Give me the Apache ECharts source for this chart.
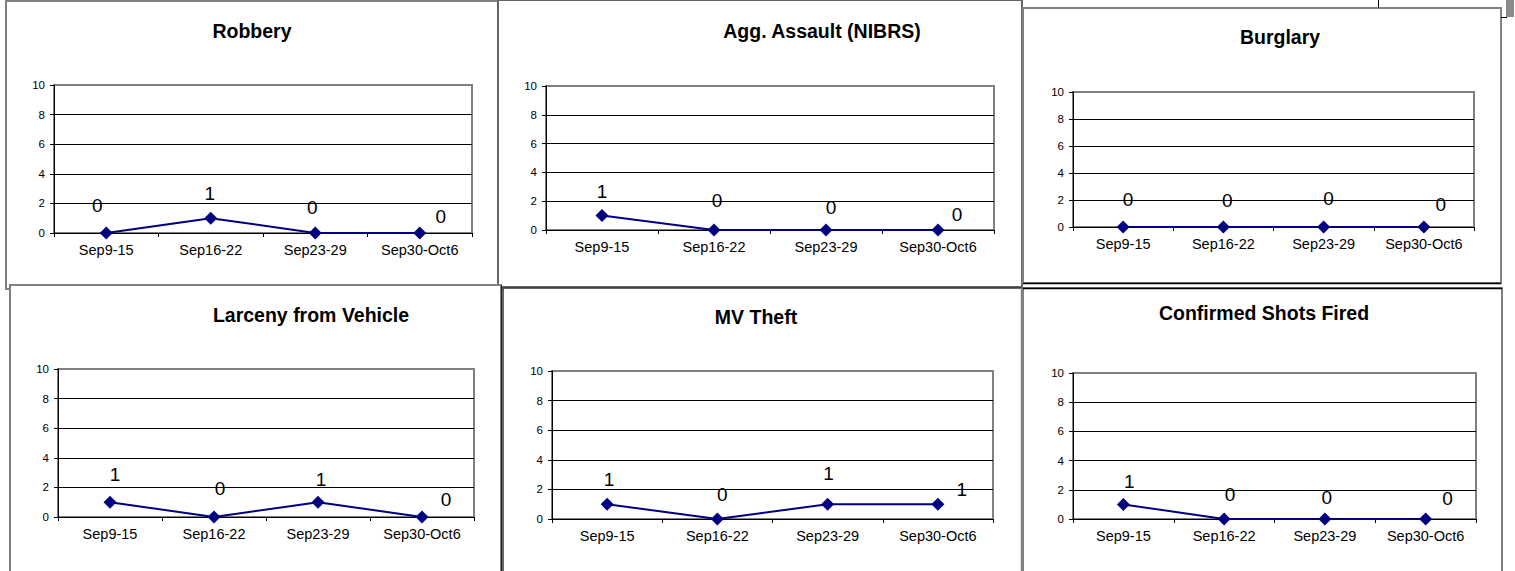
<!DOCTYPE html>
<html><head><meta charset="utf-8">
<script src="https://cdn.jsdelivr.net/npm/echarts@6/dist/echarts.min.js"></script>
<style>html,body{margin:0;padding:0;background:#fff;}#c{width:1515px;height:571px;}</style>
</head><body><div id="c"></div>
<script>
// ---- data ----
const CATEGORIES = ['Sep9-15', 'Sep16-22', 'Sep23-29', 'Sep30-Oct6'];
const Y_MIN = 0, Y_MAX = 10, Y_STEP = 2;
const ROBBERY = [0, 1, 0, 0];
const AGG_ASSAULT = [1, 0, 0, 0];
const BURGLARY = [0, 0, 0, 0];
const LARCENY_FROM_VEHICLE = [1, 0, 1, 0];
const MV_THEFT = [1, 0, 1, 1];
const SHOTS_FIRED = [1, 0, 0, 0];
const TITLES = ['Robbery', 'Agg. Assault (NIBRS)', 'Burglary', 'Larceny from Vehicle', 'MV Theft', 'Confirmed Shots Fired'];
const VALUES = [ROBBERY, AGG_ASSAULT, BURGLARY, LARCENY_FROM_VEHICLE, MV_THEFT, SHOTS_FIRED];

// ---- layout (positions / styles) ----
const GRIDS = [
  {left: 54, top: 85, width: 418, height: 148},
  {left: 546, top: 86, width: 448, height: 144},
  {left: 1073, top: 92, width: 401, height: 135},
  {left: 58, top: 369, width: 416, height: 148},
  {left: 552, top: 371, width: 441, height: 148},
  {left: 1073, top: 373, width: 403, height: 146}
];
const TITLE_POS = [[252, 31], [822, 31], [1280, 37], [311, 315], [756, 317], [1264, 313]];
const LABEL_NUDGE = [
  [[-9, -28], [-1, -25], [-3, -26], [21, -17]],
  [[0, -24], [3, -30], [5, -23], [19, -16]],
  [[5, -28], [4, -27], [5, -29], [17, -23]],
  [[5, -28], [6, -29], [3, -23], [24, -18]],
  [[2, -25], [5, -25], [1, -31], [24, -15]],
  [[6, -23], [6, -25], [2, -22], [22, -21]]
];
const FONT = '"Liberation Sans", Arial, sans-serif';
const NAVY = '#000080';

const boxes = [
  // top row
  {type: 'rect', z: -3, shape: {x: 6, y: 1, width: 492, height: 288}, style: {fill: '#fff', stroke: '#808080', lineWidth: 2}},
  {type: 'rect', z: -3, shape: {x: 498, y: 0, width: 524, height: 287}, style: {fill: '#fff', stroke: '#666', lineWidth: 2}},
  {type: 'rect', z: -3, shape: {x: 1023, y: 8, width: 478, height: 275}, style: {fill: '#fff', stroke: '#808080', lineWidth: 2}},
  {type: 'line', z: -2, shape: {x1: 1023, y1: 283.5, x2: 1501, y2: 283.5}, style: {stroke: '#000', lineWidth: 1.5}},
  {type: 'line', z: -3, shape: {x1: 1378.5, y1: 0, x2: 1378.5, y2: 8}, style: {stroke: '#000', lineWidth: 1}},
  {type: 'rect', z: -3, shape: {x: 1506, y: 0, width: 8, height: 17}, style: {fill: '#8a8a8a'}},
  {type: 'line', z: -3, shape: {x1: 1501, y1: 17.5, x2: 1507, y2: 17.5}, style: {stroke: '#000', lineWidth: 1}},
  // bottom row
  {type: 'rect', z: -1, shape: {x: 10, y: 285, width: 491, height: 300}, style: {fill: '#fff', stroke: '#808080', lineWidth: 2}},
  {type: 'line', z: -1, shape: {x1: 501.5, y1: 285, x2: 501.5, y2: 571}, style: {stroke: '#222', lineWidth: 1}},
  {type: 'rect', z: -1, shape: {x: 503, y: 288, width: 519, height: 300}, style: {fill: '#fff', stroke: '#333', lineWidth: 1.5}},
  {type: 'line', z: -1, shape: {x1: 1022, y1: 288, x2: 1022, y2: 571}, style: {stroke: '#808080', lineWidth: 2.5}},
  {type: 'rect', z: -1, shape: {x: 1023, y: 288, width: 479, height: 300}, style: {fill: '#fff', stroke: '#808080', lineWidth: 2}},
  {type: 'line', z: -1, shape: {x1: 1023, y1: 288.5, x2: 1502, y2: 288.5}, style: {stroke: '#000', lineWidth: 1.5}}
];

const option = {
  animation: false,
  backgroundColor: '#fff',
  textStyle: {fontFamily: FONT},
  graphic: boxes,
  title: TITLES.map((t, i) => ({
    text: t, left: TITLE_POS[i][0], top: TITLE_POS[i][1],
    textAlign: 'center', textVerticalAlign: 'middle', padding: 0,
    textStyle: {fontFamily: FONT, fontSize: 19.5, fontWeight: 'bold', color: '#000'}
  })),
  grid: GRIDS.map(g => Object.assign({containLabel: false, outerBoundsMode: 'none', show: true,
    borderColor: '#808080', borderWidth: 2, backgroundColor: 'transparent'}, g)),
  xAxis: GRIDS.map((g, i) => ({
    type: 'category', gridIndex: i, data: CATEGORIES, boundaryGap: true,
    axisLine: {show: true, lineStyle: {color: '#000', width: 1}},
    axisTick: {show: true, interval: 0, length: 4, lineStyle: {color: '#000'}},
    axisLabel: {interval: 0, fontSize: 14.5, color: '#000', margin: 9, fontFamily: FONT},
    splitLine: {show: false}
  })),
  yAxis: GRIDS.map((g, i) => ({
    type: 'value', gridIndex: i, min: Y_MIN, max: Y_MAX, interval: Y_STEP,
    axisLine: {show: true, lineStyle: {color: '#000', width: 1}},
    axisTick: {show: true, length: 4, lineStyle: {color: '#000'}},
    axisLabel: {fontSize: 11.5, color: '#000', margin: 9, fontFamily: FONT},
    splitLine: {show: true, lineStyle: {color: ['#000', '#000', '#000', '#000', '#000', '#808080'], width: 1}}
  })),
  series: VALUES.map((vals, i) => ({
    type: 'line', xAxisIndex: i, yAxisIndex: i,
    symbol: 'diamond', symbolSize: 13,
    lineStyle: {color: NAVY, width: 2},
    itemStyle: {color: NAVY},
    label: {show: true, position: 'inside', fontSize: 19, color: '#000', fontFamily: FONT},
    data: vals.map((v, j) => ({value: v, label: {offset: LABEL_NUDGE[i][j]}}))
  }))
};

const chart = echarts.init(document.getElementById('c'), null, {renderer: 'svg', width: 1515, height: 571});
chart.setOption(option);
</script>
</body></html>
